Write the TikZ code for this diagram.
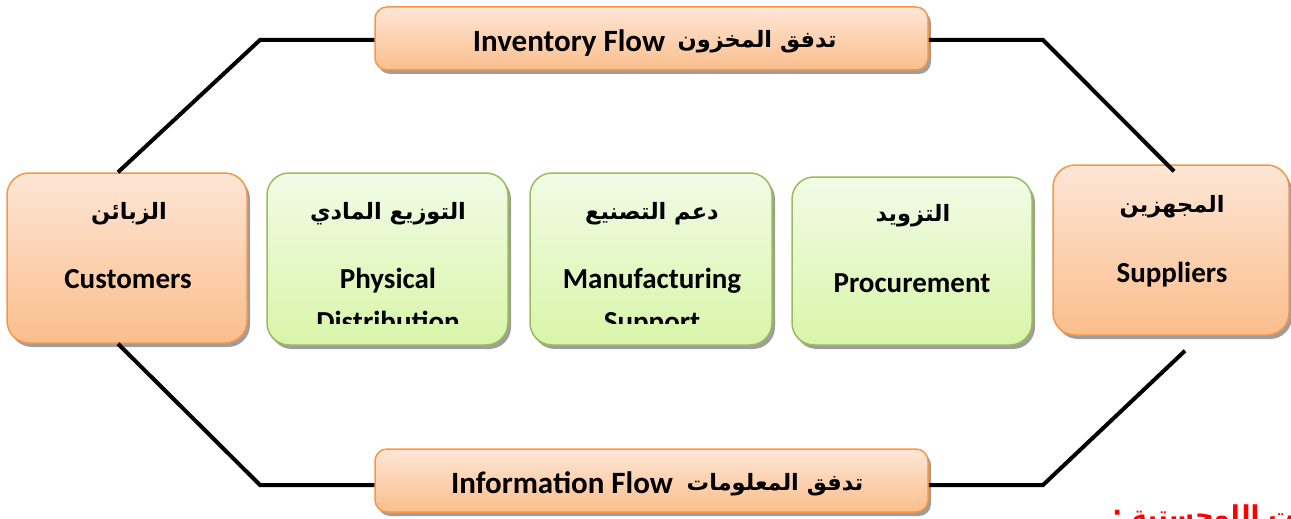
\documentclass[tikz,border=0pt]{standalone}
\usepackage{fontspec}
\setmainfont{Carlito}
\newfontfamily\arabicfont[Script=Arabic]{DejaVu Sans}
\TeXXeTstate=1
\usetikzlibrary{shadows}
\definecolor{otop}{HTML}{FDE6D6}
\definecolor{obot}{HTML}{FBBE8C}
\definecolor{oline}{HTML}{F79646}
\definecolor{gtop}{HTML}{F1FBE6}
\definecolor{gbot}{HTML}{D9F5A9}
\definecolor{gline}{HTML}{9BBB59}
\tikzset{
  shad/.style={drop shadow={shadow xshift=3pt,shadow yshift=-4pt,fill=black!38,opacity=1}},
  obox/.style={shad,rounded corners=22pt,draw=oline,line width=1.5pt,top color=otop,bottom color=obot,inner sep=0pt},
  gbox/.style={shad,rounded corners=22pt,draw=gline,line width=1.5pt,top color=gtop,bottom color=gbot,inner sep=0pt},
  fbox/.style={shad,rounded corners=12pt,draw=oline,line width=1.5pt,top color=otop,bottom color=obot,inner sep=0pt},
  en/.style={font=\fontsize{29}{34}\selectfont\bfseries,anchor=base,inner sep=0pt},
  enf/.style={font=\fontsize{31}{36}\selectfont\bfseries,anchor=base,inner sep=0pt},
  ar/.style={font=\arabicfont\bfseries\fontsize{22.5}{26}\selectfont,anchor=base,inner sep=0pt},
  conn/.style={line width=4pt,black},
}
\begin{document}
\begin{tikzpicture}[x=1pt,y=-1pt]
\useasboundingbox (0,0) rectangle (1291,519);
% boxes
\node[fbox,minimum width=553pt,minimum height=63pt] (inv) at (651.5,38.5) {};
\node[fbox,minimum width=553pt,minimum height=63pt] (info) at (651.5,480.5) {};
\node[obox,minimum width=240pt,minimum height=170pt] (cust) at (127,258) {};
\node[gbox,minimum width=241pt,minimum height=172pt] (phys) at (387.5,259) {};
\node[gbox,minimum width=242pt,minimum height=172pt] (manu) at (651,259) {};
\node[gbox,minimum width=240pt,minimum height=168pt] (proc) at (912,261) {};
\node[obox,minimum width=236pt,minimum height=170pt] (sup) at (1171,250) {};
% connectors
\coordinate (c1) at (260,40);
\coordinate (c2) at (1043,40);
\coordinate (c3) at (260,485);
\coordinate (c4) at (1043,485);
\draw[conn] ([xshift=-9pt]cust.north) -- (c1) -- (c1 -| inv.west);
\draw[conn] (c2 -| inv.east) -- (c2) -- ([xshift=3pt,yshift=-7pt]sup.north);
\draw[conn] ([xshift=-9pt]cust.south) -- (c3) -- (c3 -| info.west);
\draw[conn] (c4 -| info.east) -- (c4) -- ([xshift=14pt,yshift=-15pt]sup.south);
% texts
\node[enf] (invEn) at (569,52) {Inventory Flow};
\node[ar] (invAr) at (757,48) {\beginR تدفق المخزون\endR};
\node[enf] (infoEn) at (562,493) {Information Flow};
\node[ar] (infoAr) at (775,490) {\beginR تدفق المعلومات\endR};
\node[ar] (custAr) at (129,219) {\beginR الزبائن\endR};
\node[en] (custEn) at (128,288) {Customers};
\node[ar] (physAr) at (388,219) {\beginR التوزيع المادي\endR};
\node[en] (physEn) at (388,288) {Physical};
\node[ar] (manuAr) at (652,219) {\beginR دعم التصنيع\endR};
\node[en] (manuEn) at (652,288) {Manufacturing};
\node[ar] (procAr) at (913,221) {\beginR التزويد\endR};
\node[en] (procEn) at (912,292) {Procurement};
\node[ar] (supAr) at (1172,212) {\beginR المجهزين\endR};
\node[en] (supEn) at (1172,282) {Suppliers};
\begin{scope}
\clip (260,150) rectangle (800,323);
\node[en] (physEn2) at (388,331) {Distribution};
\node[en] (manuEn2) at (652,331) {Support};
\end{scope}
\node[ar,anchor=base west,text=red,font=\arabicfont\bfseries\fontsize{26}{30}\selectfont] (red) at (1112,524) {\beginR العمليات اللوجستية :\endR};
\end{tikzpicture}
\end{document}
